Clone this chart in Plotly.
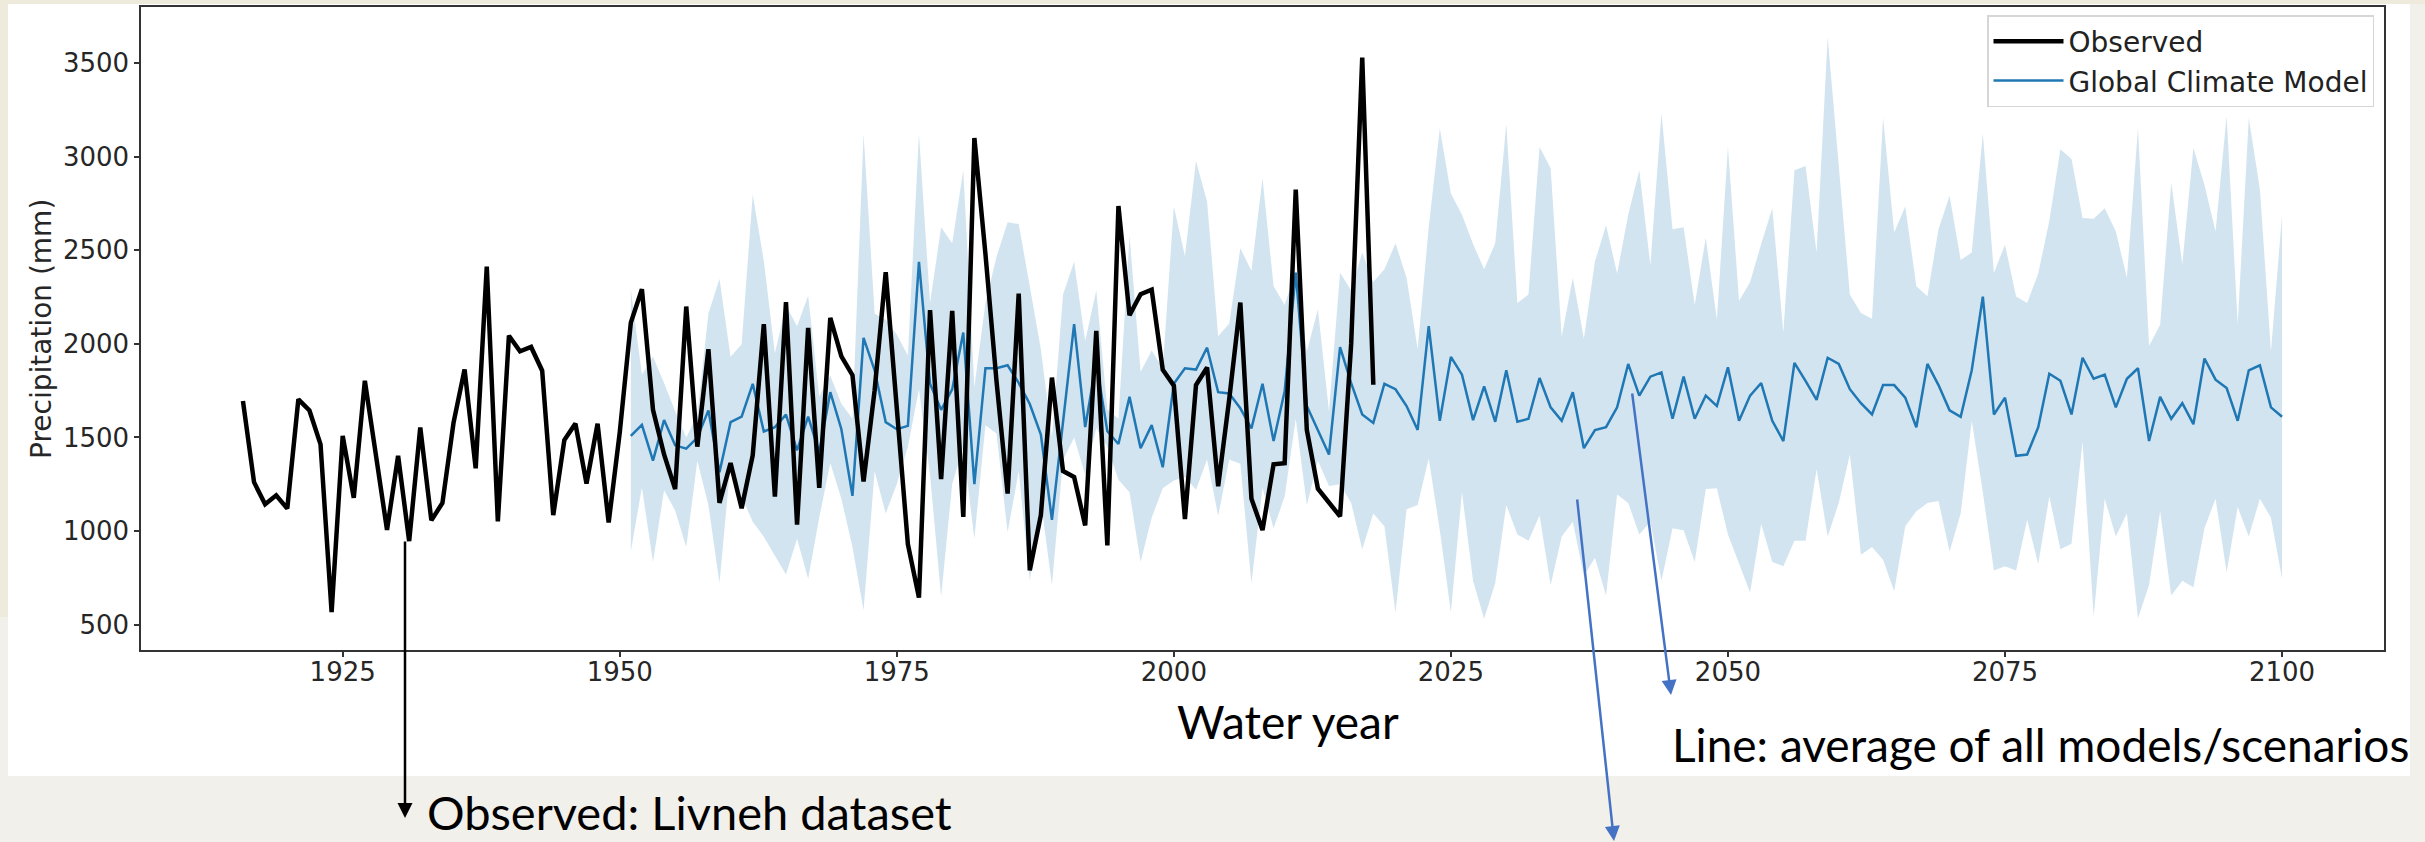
import numpy as np
import plotly.graph_objects as go

W, H = 2425, 842

obs_years = list(range(1916, 2019))
observed = [
    1695, 1261, 1143, 1191, 1120, 1704, 1644, 1463, 566, 1509,   # 1916-1925
    1177, 1803, 1405, 1006, 1402, 946, 1553, 1057, 1150, 1578,   # 1926-1935
    1864, 1335, 2413, 1052, 2044, 1961, 1984, 1857, 1085, 1486,  # 1936-1945
    1574, 1254, 1574, 1045, 1527, 2114, 2292, 1648, 1409, 1224,  # 1946-1955
    2200, 1451, 1972, 1150, 1363, 1122, 1405, 2106, 1184, 2223,  # 1956-1965
    1034, 2086, 1231, 2139, 1933, 1833, 1265, 1752, 2383, 1648,  # 1966-1975
    929, 644, 2181, 1277, 2177, 1075, 3101, 2480, 1800, 1200,    # 1976-1985
    2269, 790, 1085, 1820, 1321, 1289, 1030, 2070, 923, 2737,    # 1986-1995
    2153, 2266, 2290, 1862, 1777, 1064, 1780, 1874, 1239, 1706,  # 1996-2005
    2221, 1173, 1005, 1357, 1362, 2825, 1540, 1226, 1155, 1078,  # 2006-2015
    2000, 3530, 1782,                                            # 2016-2018
]

gcm_years = list(range(1951, 2101))
gcm_mean = [
    1509, 1567, 1376, 1593, 1458, 1440, 1499, 1645, 1314, 1582,  # 1951-1960
    1611, 1787, 1532, 1555, 1622, 1431, 1611, 1420, 1742, 1544,  # 1961-1970
    1188, 2032, 1859, 1582, 1544, 1562, 2439, 1787, 1648, 1757,  # 1971-1980
    2061, 1251, 1870, 1870, 1886, 1792, 1679, 1515, 1060, 1568,  # 1981-1990
    2106, 1556, 1900, 1533, 1465, 1717, 1442, 1566, 1341, 1787,  # 1991-2000
    1870, 1863, 1980, 1742, 1735, 1656, 1548, 1787, 1481, 1747,  # 2001-2010
    2381, 1668, 1540, 1409, 1983, 1790, 1623, 1578, 1787, 1758,  # 2011-2020
    1668, 1540, 2095, 1589, 1931, 1836, 1593, 1773, 1584, 1859,  # 2021-2030
    1584, 1600, 1818, 1661, 1589, 1742, 1443, 1540, 1555, 1661,  # 2031-2040
    1893, 1724, 1825, 1848, 1600, 1825, 1600, 1724, 1668, 1875,  # 2041-2050
    1589, 1724, 1791, 1589, 1481, 1899, 1803, 1701, 1926, 1893,  # 2051-2060
    1758, 1683, 1623, 1780, 1780, 1713, 1555, 1893, 1780, 1645,  # 2061-2070
    1611, 1859, 2253, 1623, 1713, 1402, 1409, 1555, 1841, 1803,  # 2071-2080
    1623, 1926, 1814, 1836, 1661, 1814, 1870, 1481, 1717, 1600,  # 2081-2090
    1683, 1571, 1922, 1809, 1764, 1589, 1859, 1886, 1661, 1611,  # 2091-2100
]

gcm_upper = [
    2291, 1836, 1931, 1791, 1640, 1500, 1620, 2162, 2349, 1931,  # 1951-1960
    1998, 2799, 2444, 1949, 2207, 2095, 2257, 1720, 1830, 1680,  # 1961-1970
    1600, 3123, 2162, 2129, 2050, 1938, 3123, 2219, 2624, 2538,  # 1971-1980
    2928, 1769, 2219, 2466, 2650, 2641, 2309, 1971, 1500, 2264,  # 1981-1990
    2439, 2016, 2286, 1650, 1600, 2579, 1850, 1965, 1870, 2734,  # 1991-2000
    2470, 2978, 2760, 2041, 2109, 2512, 2390, 2885, 2309, 2208,  # 2001-2010
    2390, 1960, 2185, 1640, 2381, 2286, 2489, 2331, 2399, 2538,  # 2011-2020
    2354, 1971, 2624, 3152, 2804, 2691, 2534, 2399, 2538, 3175,  # 2021-2030
    2219, 2264, 3052, 2939, 2039, 2354, 2028, 2440, 2635, 2376,  # 2031-2040
    2691, 2928, 2421, 3235, 2613, 2624, 2208, 2568, 2129, 3052,  # 2041-2050
    2230, 2331, 2534, 2725, 2061, 2928, 2951, 2489, 3641, 2950,  # 2051-2060
    2264, 2165, 2135, 3210, 2595, 2735, 2309, 2255, 2613, 2792,  # 2061-2070
    2448, 2489, 3123, 2381, 2530, 2253, 2219, 2376, 2658, 3040,  # 2071-2080
    2988, 2673, 2669, 2725, 2601, 2354, 3153, 1989, 2102, 2861,  # 2081-2090
    2426, 3047, 2849, 2601, 3220, 2106, 3208, 2827, 1960, 2691,  # 2091-2100
]

gcm_lower = [
    892, 1233, 835, 1218, 1110, 914, 1375, 1139, 722, 1364,      # 1951-1960
    1184, 1049, 970, 869, 767, 959, 745, 1071, 1364, 1172,       # 1961-1970
    914, 577, 1319, 1094, 1251, 1450, 1758, 1300, 650, 1251,     # 1971-1980
    1450, 958, 1566, 1521, 992, 1319, 734, 1161, 711, 1380,      # 1981-1990
    1500, 1300, 1550, 1450, 1274, 1207, 835, 1071, 1229, 1270,   # 1991-2000
    1289, 1220, 1382, 1081, 1382, 1359, 721, 1230, 1015, 1184,   # 2001-2010
    1600, 1139, 1375, 1240, 1250, 1150, 903, 1094, 1026, 565,    # 2011-2020
    1116, 1139, 1387, 1004, 565, 1207, 734, 531, 722, 1139,      # 2021-2030
    982, 948, 1083, 711, 971, 1049, 760, 857, 655, 1195,         # 2031-2040
    1150, 981, 1049, 734, 1015, 1004, 835, 1224, 1229, 981,      # 2041-2050
    824, 671, 1038, 835, 812, 948, 948, 1330, 971, 1150,         # 2051-2060
    1409, 873, 914, 847, 678, 1026, 1105, 1150, 1161, 891,       # 2061-2070
    1094, 1589, 1207, 789, 812, 789, 1060, 824, 1184, 903,       # 2071-2080
    932, 1477, 543, 1173, 971, 1094, 532, 711, 1105, 655,        # 2081-2090
    734, 700, 1015, 1173, 779, 1128, 971, 1173, 1071, 745,       # 2091-2100
]

x_ticks = [1925, 1950, 1975, 2000, 2025, 2050, 2075, 2100]
y_ticks = [500, 1000, 1500, 2000, 2500, 3000, 3500]

assert len(observed) == len(obs_years)
assert len(gcm_mean) == len(gcm_years) == len(gcm_upper) == len(gcm_lower)


def px(x):
    return x / W


def py(y):
    return 1 - y / H


fig = go.Figure()

fig.add_trace(go.Scatter(x=gcm_years, y=gcm_lower, mode="lines",
                         line=dict(width=0, color="rgba(31,119,180,0)"),
                         showlegend=False, hoverinfo="skip"))
fig.add_trace(go.Scatter(x=gcm_years, y=gcm_upper, mode="lines", fill="tonexty",
                         fillcolor="rgba(31,119,180,0.2)",
                         line=dict(width=0, color="rgba(31,119,180,0)"),
                         showlegend=False, hoverinfo="skip"))
fig.add_trace(go.Scatter(x=gcm_years, y=gcm_mean, mode="lines", name="Global Climate Model",
                         line=dict(color="#1f77b4", width=2.5), legendrank=2))
fig.add_trace(go.Scatter(x=obs_years, y=observed, mode="lines", name="Observed",
                         line=dict(color="black", width=4.5), legendrank=1))

tickfont = dict(family="DejaVu Sans", size=26, color="#262626")

fig.update_layout(
    width=W, height=H, autosize=False,
    margin=dict(l=0, r=0, t=0, b=0, pad=0),
    paper_bgcolor="#f1f0eb",
    plot_bgcolor="white",
    showlegend=True,
    legend=dict(x=px(2374), y=py(15), xanchor="right", yanchor="top",
                traceorder="normal",
                bgcolor="rgba(255,255,255,0.85)", bordercolor="#d6d6d6", borderwidth=1.5,
                font=dict(family="DejaVu Sans", size=28, color="#222"),
                itemwidth=70, tracegroupgap=0),
    xaxis=dict(domain=[px(141), px(2384)], range=[1906.8, 2109.2],
               tickmode="array", tickvals=x_ticks, ticks="outside", ticklen=5,
               tickcolor="#333", tickwidth=1.5, tickfont=tickfont, ticklabelstandoff=-7,
               showline=True, mirror=True, linecolor="#333", linewidth=1.5,
               showgrid=False, zeroline=False),
    yaxis=dict(domain=[py(650), py(7)], range=[364, 3801],
               tickmode="array", tickvals=y_ticks, ticks="outside", ticklen=5,
               tickcolor="#333", tickwidth=1.5, tickfont=tickfont,
               showline=True, mirror=True, linecolor="#333", linewidth=1.5,
               showgrid=False, zeroline=False),
    shapes=[
        dict(type="rect", xref="paper", yref="paper", x0=0, x1=px(9), y0=py(617), y1=1,
             fillcolor="#eeebdc", line=dict(width=0), layer="below"),
        dict(type="rect", xref="paper", yref="paper", x0=0, x1=1, y0=py(4), y1=1,
             fillcolor="#eeebdc", line=dict(width=0), layer="below"),
        dict(type="rect", xref="paper", yref="paper", x0=px(8), x1=px(2410), y0=py(776), y1=py(4),
             fillcolor="white", line=dict(width=0), layer="below"),
    ],
)

slide_font = dict(family="Lato", size=46, color="black")

annotations = [
    dict(text="Precipitation (mm)", xref="paper", yref="paper", x=px(41), y=py(329),
         textangle=-90, showarrow=False, xanchor="center", yanchor="middle",
         font=dict(family="DejaVu Sans", size=28, color="#262626")),
    dict(text="Water year", xref="paper", yref="paper", x=px(1288), y=py(721),
         showarrow=False, xanchor="center", yanchor="middle", font=slide_font),
    dict(text="Line: average of all models/scenarios", xref="paper", yref="paper",
         x=px(1670), y=py(744), showarrow=False, xanchor="left", yanchor="middle", font=slide_font),
    dict(text="Observed: Livneh dataset", xref="paper", yref="paper",
         x=px(425), y=py(812), showarrow=False, xanchor="left", yanchor="middle",
         font=dict(family="Lato", size=47, color="black")),
    # arrows
    dict(text="", xref="paper", yref="paper", x=px(405), y=py(818), ax=0, ay=-278,
         showarrow=True, arrowhead=2, arrowsize=1.2, arrowwidth=2.5, arrowcolor="black"),
    dict(text="", xref="paper", yref="paper", x=px(1614), y=py(848), ax=-37, ay=-350,
         showarrow=True, arrowhead=2, arrowsize=1.2, arrowwidth=2.5, arrowcolor="#4472c4"),
    dict(text="", xref="paper", yref="paper", x=px(1671), y=py(695), ax=-39, ay=-303,
         showarrow=True, arrowhead=2, arrowsize=1.2, arrowwidth=2.5, arrowcolor="#4472c4"),
]
fig.update_layout(annotations=annotations)

fig.write_html("out.html")
